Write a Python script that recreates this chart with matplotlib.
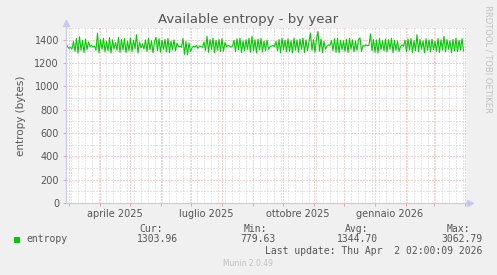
import matplotlib
matplotlib.use('Agg')
import matplotlib.pyplot as plt
import matplotlib.transforms as mtransforms
from matplotlib.patches import Rectangle
import numpy as np
import pandas as pd

# Chart texts
title = 'Available entropy - by year'
ylabel = 'entropy (bytes)'
series_name = 'entropy'
watermark = 'RRDTOOL / TOBI OETIKER'
footer = 'Munin 2.0.49'
last_update = 'Last update: Thu Apr  2 02:00:09 2026'

# Time window (munin year graph = 400 days ending at last update)
end_time = pd.Timestamp('2026-04-02 02:00:09')
span_days = 400
step_hours = 36

# entropy samples, one every 36 h from the window start
entropy = [
    1370, 1340, 1325, 1335, 1320,
    1385, 1300, 1410, 1285, 1425, 1310, 1395, 1290, 1405, 1315, 1380,
    1340, 1352, 1336, 1345,
    1310, 1457, 1288, 1400, 1318, 1412, 1295, 1385, 1305, 1418, 1285, 1398, 1320, 1375, 1310,
    1420, 1292, 1402, 1312, 1410, 1288, 1388, 1305, 1415, 1298, 1395, 1322, 1443, 1285, 1380,
    1330, 1365, 1320,
    1398, 1300, 1412, 1315, 1390, 1288, 1380, 1420, 1305, 1408, 1292,
    1395, 1318, 1402, 1295, 1410, 1290, 1385, 1312, 1398, 1305, 1370,
    1340, 1346, 1335,
    1410, 1275, 1385, 1270, 1372, 1298,
    1330, 1345, 1335, 1352, 1325, 1346, 1340, 1335,
    1380, 1308, 1430, 1292, 1400, 1318, 1412, 1288, 1395, 1310, 1402, 1298, 1408, 1300, 1375,
    1340, 1350, 1345, 1335, 1345,
    1395, 1296, 1408, 1315, 1412, 1288, 1390, 1305, 1400, 1318, 1412, 1292,
    1430, 1305, 1398, 1286, 1405, 1312, 1410, 1295, 1388, 1308, 1396, 1318,
    1340, 1345, 1350, 1340,
    1385, 1305, 1402, 1288, 1412, 1315, 1395, 1296, 1408, 1302, 1390, 1286, 1414, 1310, 1398, 1292, 1405,
    1318, 1412, 1290, 1398, 1305, 1385, 1457, 1310, 1400, 1292, 1410, 1470, 1302, 1405, 1290, 1385, 1320,
    1345, 1355, 1350,
    1392, 1305, 1408, 1292, 1412, 1288, 1395, 1315, 1390, 1300, 1405,
    1290, 1412, 1318, 1398, 1296, 1388, 1308, 1400, 1415, 1300,
    1350, 1345, 1355, 1348, 1352,
    1450, 1305, 1402, 1292, 1398, 1286, 1410, 1315, 1392, 1305,
    1405, 1296, 1400, 1318, 1412, 1290, 1395, 1308, 1388, 1300,
    1340, 1355, 1345,
    1395, 1298, 1405, 1312, 1410, 1290, 1392, 1305, 1443, 1295, 1402, 1318, 1390, 1288, 1408, 1310, 1398, 1295, 1405, 1315,
    1385, 1300, 1410, 1290, 1398, 1312, 1430, 1295, 1400, 1318, 1390, 1288, 1402, 1305, 1412, 1296, 1395, 1310, 1410, 1304,
]

# Axis labels and legend numbers
y_major = [0, 200, 400, 600, 800, 1000, 1200, 1400]
y_top = 1500
month_labels = ['aprile 2025', 'luglio 2025', 'ottobre 2025', 'gennaio 2026']
month_label_starts = ['2025-04-01', '2025-07-01', '2025-10-01', '2026-01-01']
stats_header = ['Cur:', 'Min:', 'Avg:', 'Max:']
stats_values = ['1303.96', '779.63', '1344.70', '3062.79']

# Colours
bg = '#f0f0f0'
line_green = '#00cc00'
major_grid = '#f0a0a0'
minor_grid = '#cccccc'
axis_col = '#c8c8f8'
text_col = '#555555'

W, H = 497, 275
fig = plt.figure(figsize=(W / 100, H / 100), dpi=100, facecolor=bg)
# plot area: x 66..466, y 28..203 (pixels)
ax = fig.add_axes([66 / W, (H - 203) / H, 400 / W, 175 / H])
ax.set_facecolor('white')

start_time = end_time - pd.Timedelta(days=span_days)
times = start_time + pd.to_timedelta(np.arange(len(entropy)) * step_hours, unit='h')

ax.set_xlim(start_time, end_time)
ax.set_ylim(0, y_top)

dot = (0, (1, 2))
# horizontal grid
for v in range(100, y_top + 1, 100):
    if v in y_major:
        ax.axhline(v, color=major_grid, lw=0.72, ls=dot, zorder=1)
    else:
        ax.axhline(v, color=minor_grid, lw=0.72, ls=dot, zorder=1)

# vertical grid: months (major), weeks (minor)
months = pd.date_range('2025-03-01', '2026-04-01', freq='MS')
weeks = pd.date_range('2025-03-03', '2026-03-30', freq='W-MON')
for w in weeks:
    if w not in months:
        ax.axvline(w, color=minor_grid, lw=0.72, ls=dot, zorder=1)
for m in months:
    ax.axvline(m, color=major_grid, lw=0.72, ls=dot, zorder=1)

ax.plot(times, entropy, color=line_green, lw=0.8, zorder=3)

# spines / axis arrows
for s in ax.spines.values():
    s.set_visible(False)
ax.plot([0, 1.01], [0, 0], transform=ax.transAxes, color=axis_col, lw=0.8, clip_on=False, zorder=4)
ax.plot([0, 0], [0, 1.03], transform=ax.transAxes, color=axis_col, lw=0.8, clip_on=False, zorder=4)
ax.plot([1.01], [0], transform=ax.transAxes, marker='>', ms=4, color=axis_col, clip_on=False, zorder=4)
ax.plot([0], [1.03], transform=ax.transAxes, marker='^', ms=4, color=axis_col, clip_on=False, zorder=4)

ax.set_yticks(y_major)
ax.set_yticklabels([str(v) for v in y_major])
ax.tick_params(axis='y', length=2, width=0.7, color=major_grid, labelsize=7, labelcolor=text_col, pad=3)
ax.set_xticks(months)
ax.set_xticklabels([])
ax.tick_params(axis='x', length=2, width=0.7, color=major_grid)

# month labels centred half a month after the month start
trans = mtransforms.blended_transform_factory(ax.transData, ax.transAxes)
for lab, st in zip(month_labels, month_label_starts):
    pos = pd.Timestamp(st) + pd.Timedelta(days=15)
    ax.text(pos, -0.035, lab, transform=trans, ha='center', va='top', fontsize=7, color=text_col)

ax.set_ylabel(ylabel, fontsize=7.5, color=text_col, labelpad=6)

fig.text(248.5 / W, 1 - 19 / H, title, ha='center', va='center', fontsize=9.5, color=text_col)
fig.text(488 / W, 1 - 5 / H, watermark, ha='center', va='top', rotation=270, fontsize=6, color='#c0c0c0')

# legend
mono = 'DejaVu Sans Mono'
fig.patches.append(Rectangle((14 / W, 1 - 243 / H), 6 / W, 6 / H, transform=fig.transFigure,
                             facecolor=line_green, edgecolor='none'))
fig.text(26 / W, 1 - 239.5 / H, series_name, ha='left', va='center', fontsize=7, family=mono, color=text_col)
head_x = [163, 267, 368, 470]
val_x = [178, 276, 378, 482]
for hx, h in zip(head_x, stats_header):
    fig.text(hx / W, 1 - 228.5 / H, h, ha='right', va='center', fontsize=7, family=mono, color=text_col)
for vx, v in zip(val_x, stats_values):
    fig.text(vx / W, 1 - 239.5 / H, v, ha='right', va='center', fontsize=7, family=mono, color=text_col)
fig.text(482 / W, 1 - 251.5 / H, last_update, ha='right', va='center', fontsize=7, family=mono, color=text_col)
fig.text(248 / W, 1 - 264 / H, footer, ha='center', va='center', fontsize=5.5, color='#c0c0c0')

fig.savefig('out.png', dpi=100, facecolor=bg)
